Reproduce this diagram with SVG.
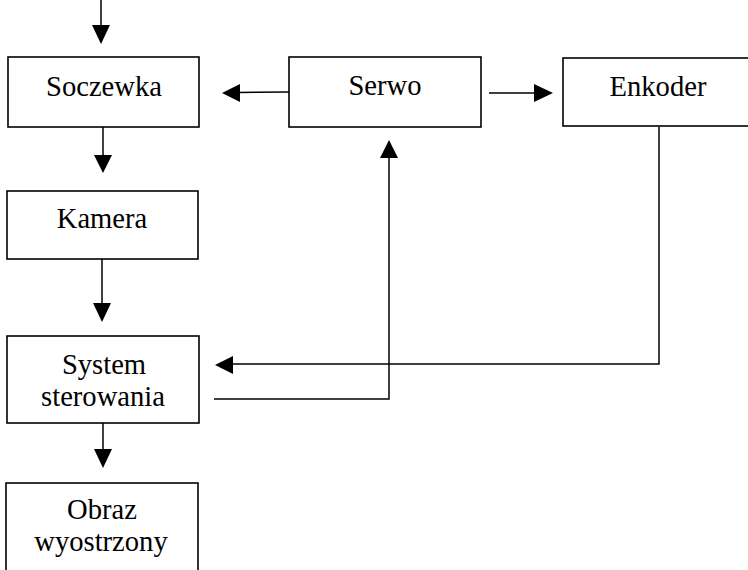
<svg xmlns="http://www.w3.org/2000/svg" width="748" height="570" viewBox="0 0 748 570">
<style>
.box{fill:#fff;stroke:#000;stroke-width:1.6}
.ln{fill:none;stroke:#000;stroke-width:1.5}
.ah{fill:#000;stroke:none}
text{font-family:"Liberation Serif","Times New Roman",serif;font-size:28.6px;fill:#000;text-anchor:middle}
</style>
<rect width="748" height="570" fill="#fff"/>
<g id="connectors">
<line class="ln" x1="101" y1="0" x2="101" y2="27"/>
<polygon class="ah" points="92,25 110,25 101,44"/>
<line class="ln" x1="103" y1="127" x2="103" y2="157"/>
<polygon class="ah" points="94,155 112,155 103,173"/>
<line class="ln" x1="102" y1="259" x2="102" y2="305"/>
<polygon class="ah" points="93,303 111,303 102,322"/>
<line class="ln" x1="103" y1="423" x2="103" y2="451"/>
<polygon class="ah" points="94,449 112,449 103,468"/>
<line class="ln" x1="289" y1="92" x2="238" y2="92.5"/>
<polygon class="ah" points="240,84 240,102 222,93"/>
<line class="ln" x1="489" y1="93" x2="535" y2="93"/>
<polygon class="ah" points="534,84 534,102 553,93"/>
<polyline class="ln" points="659,127 659,364 231,364"/>
<polygon class="ah" points="233,356 233,374 215,365"/>
<polyline class="ln" points="214,399 389,399 389,156"/>
<polygon class="ah" points="380,158 398,158 389,140"/>
</g>
<g id="soczewka"><rect class="box" x="8" y="57" width="191" height="70"/><text x="104" y="96">Soczewka</text></g>
<g id="serwo"><rect class="box" x="289" y="57" width="192" height="70"/><text x="385" y="95">Serwo</text></g>
<g id="enkoder"><rect class="box" x="563" y="58" width="186" height="68"/><text x="658" y="96">Enkoder</text></g>
<g id="kamera"><rect class="box" x="7" y="191" width="191" height="68"/><text x="102" y="228">Kamera</text></g>
<g id="system"><rect class="box" x="7" y="336" width="192" height="87"/><text x="104" y="374">System</text><text x="103" y="406">sterowania</text></g>
<g id="obraz"><rect class="box" x="6" y="483" width="192" height="100"/><text x="102" y="519">Obraz</text><text x="101" y="551">wyostrzony</text></g>
</svg>
